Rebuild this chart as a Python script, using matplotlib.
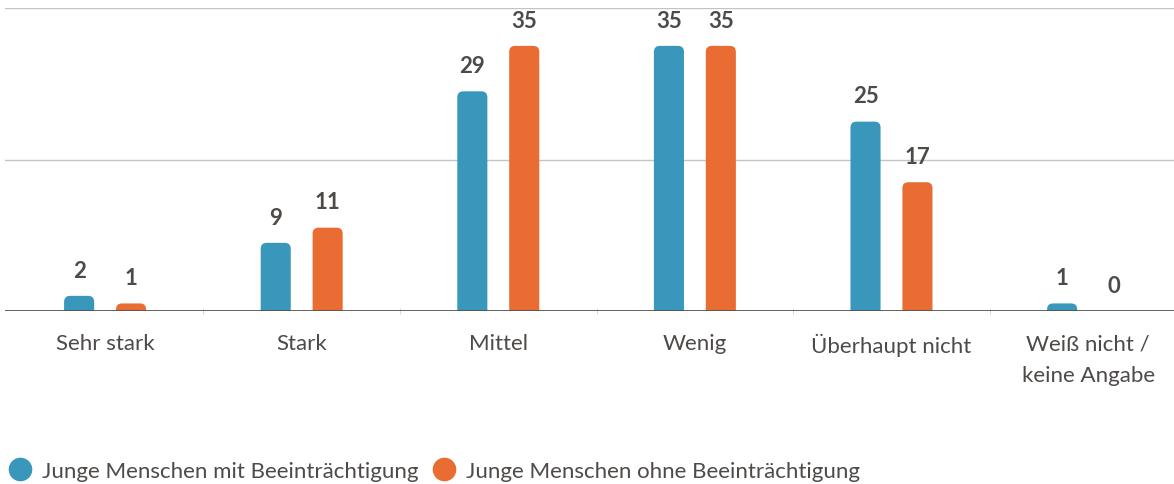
import matplotlib
matplotlib.use("Agg")
import matplotlib.pyplot as plt
from matplotlib.path import Path
from matplotlib.patches import PathPatch
from matplotlib.lines import Line2D
import numpy as np

plt.rcParams['font.family'] = ['Lato', 'DejaVu Sans']

categories = ['Sehr stark', 'Stark', 'Mittel', 'Wenig', 'Überhaupt nicht',
              'Weiß nicht /\nkeine Angabe']
mit_beeintraechtigung = [2, 9, 29, 35, 25, 1]
ohne_beeintraechtigung = [1, 11, 35, 35, 17, 0]
series_names = ['Junge Menschen mit Beeinträchtigung',
                'Junge Menschen ohne Beeinträchtigung']

BLUE = '#3a97bc'
ORANGE = '#e96d32'
TEXT = '#4d4a48'

W, H, DPI = 1174, 485, 100
fig = plt.figure(figsize=(W / DPI, H / DPI), dpi=DPI)
ax_left, ax_right, ax_bottom, ax_top = 5, 1174, 312, 9
ax = fig.add_axes([ax_left / W, 1 - ax_bottom / H,
                   (ax_right - ax_left) / W, (ax_bottom - ax_top) / H])

xlim = (-0.509, 5.437)
ylim = (0, 40)
ax.set_xlim(*xlim)
ax.set_ylim(*ylim)

# data units per pixel, used for the rounded corners
ux = (xlim[1] - xlim[0]) / (ax_right - ax_left)
uy = (ylim[1] - ylim[0]) / (ax_bottom - ax_top)


def rounded_bar(x, width, height, color, r_px=6):
    if height <= 0:
        return
    x0, x1 = x - width / 2, x + width / 2
    rx = r_px * ux
    ry = min(r_px * uy, height)
    verts = [(x0, 0), (x0, height - ry), (x0, height), (x0 + rx, height),
             (x1 - rx, height), (x1, height), (x1, height - ry), (x1, 0), (x0, 0)]
    codes = [Path.MOVETO, Path.LINETO, Path.CURVE3, Path.CURVE3,
             Path.LINETO, Path.CURVE3, Path.CURVE3, Path.LINETO, Path.CLOSEPOLY]
    ax.add_patch(PathPatch(Path(verts, codes), facecolor=color,
                           edgecolor='none', zorder=3))


bar_w = 0.153
offset = 0.132
x = np.arange(len(categories))
for series, dx, color in [(mit_beeintraechtigung, -offset, BLUE),
                          (ohne_beeintraechtigung, offset, ORANGE)]:
    for xi, v in zip(x, series):
        rounded_bar(xi + dx, bar_w, v, color)
        ax.annotate(str(v), (xi + dx, v), xytext=(0, 11), textcoords='offset points',
                    ha='center', va='bottom', fontsize=16, fontweight='bold',
                    color=TEXT)

# grid and baseline
for gy in [20, 40]:
    ax.axhline(gy, color='#c4c4c4', lw=1, zorder=1)
ax.axhline(0, color='#55514d', lw=2, zorder=4)

for s in ax.spines.values():
    s.set_visible(False)
ax.set_yticks([])
ax.set_xticks(x)
ax.set_xticklabels(categories, fontsize=16, color=TEXT, linespacing=1.75)
ax.tick_params(axis='x', length=0, pad=16)
ax.set_xticks(x[:-1] + 0.5, minor=True)
ax.tick_params(axis='x', which='minor', length=4, color='#d0d0d0', direction='inout')

handles = [Line2D([], [], ls='none', marker='o', markersize=16, color=c)
           for c in (BLUE, ORANGE)]
leg = fig.legend(handles, series_names, loc='center left',
                 bbox_to_anchor=(-0.002, 1 - 472 / H),
                 ncol=2, frameon=False, fontsize=16, handletextpad=0.4,
                 columnspacing=0.55, handlelength=1.2, borderaxespad=0)
for t in leg.get_texts():
    t.set_color(TEXT)

fig.savefig('out.png', dpi=DPI)
